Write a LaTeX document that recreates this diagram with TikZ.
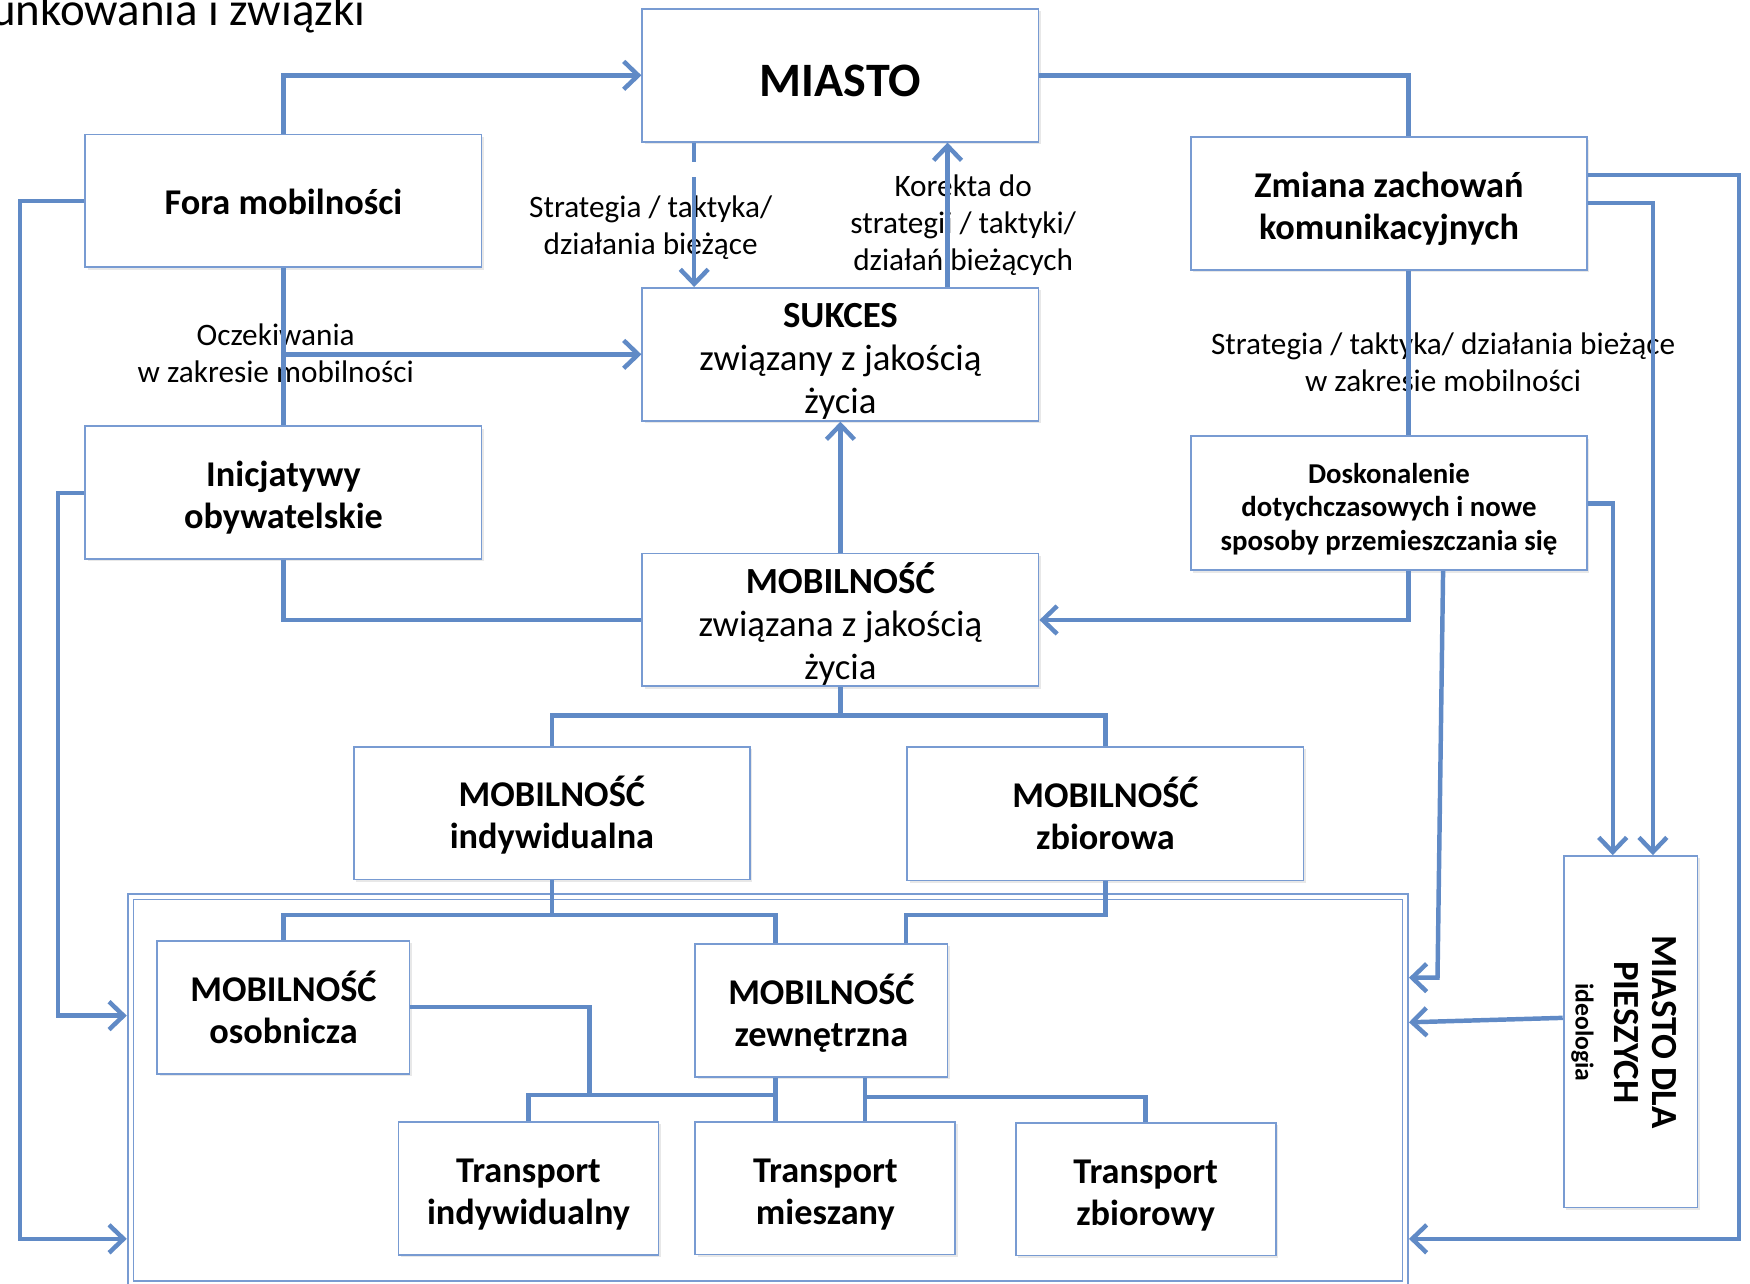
\documentclass[tikz,border=0pt]{standalone}
\usepackage{fontspec}
\setmainfont{Carlito}
\usetikzlibrary{arrows.meta,calc,shadows}

\definecolor{linkblue}{RGB}{96,138,198}
\definecolor{frameblue}{RGB}{120,155,210}

\newcommand{\fsz}[2]{\fontsize{#1}{#2}\selectfont}
% centred block of lines, drawn a little lower than its box is centred
\newcommand{\boxtext}[2][6pt]{\raisebox{-#1}[\height][\depth]{\begin{tabular}{@{}c@{}}#2\end{tabular}}}

\begin{document}
\begin{tikzpicture}[x=1pt,y=-1pt,
  box/.style={draw=frameblue, line width=1.6pt, fill=white, inner sep=0pt,
    align=center, drop shadow={opacity=0.18, shadow xshift=2pt, shadow yshift=-2pt}},
  bigbox/.style={box, minimum width=355pt, minimum height=119pt},
  smallbox/.style={box, minimum width=226pt, minimum height=119pt},
  tbox/.style={box, minimum width=233pt, minimum height=119pt},
  title/.style={font=\bfseries\fsz{32.5}{37.5}},
  plain/.style={font=\fsz{33}{38.5}},
  lbl/.style={align=center, inner sep=0pt, font=\fsz{28}{33}},
  link/.style={draw=linkblue, line width=4pt, line join=miter},
  arr/.style={-{Straight Barb[length=13pt,width=25pt]}},
]
\useasboundingbox (0,0) rectangle (1568,1150);

% page heading (cut at the edge)
\node[anchor=base west, inner sep=0pt, font=\fsz{42}{46}] (heading) at (-8,23) {unkowania i związki};

% container holding the detailed mobility levels
\node[draw=frameblue, line width=1.4pt, double=white, double distance=3.6pt,
      minimum width=1142pt, minimum height=347pt, outer sep=3.4pt] (cont) at (688,977) {};

% main boxes
\node[bigbox, font=\bfseries\fsz{43}{48}] (miasto) at (753,67.5) {\boxtext[9pt]{MIASTO}};
\node[bigbox, title] (fora) at (254,180) {\boxtext[5pt]{Fora mobilności}};
\node[bigbox, title] (zmiana) at (1244.5,182.5) {\boxtext[5.5pt]{Zmiana zachowań\\komunikacyjnych}};
\node[bigbox, plain] (sukces) at (753,317.5) {\boxtext[6.5pt]{\textbf{SUKCES}\\związany z jakością\\życia}};
\node[bigbox, title] (inicj) at (254,441.5) {\boxtext{Inicjatywy\\obywatelskie}};
\node[bigbox, font=\bfseries\fsz{25.8}{30}, minimum height=120pt] (dosk) at (1244.5,451)
  {\boxtext{Doskonalenie\\dotychczasowych i nowe\\sposoby przemieszczania się}};
\node[bigbox, plain] (mobq) at (753,555.5) {\boxtext[6.5pt]{\textbf{MOBILNOŚĆ}\\związana z jakością\\życia}};
\node[bigbox, title] (mind) at (494.5,728.5) {\boxtext[5pt]{MOBILNOŚĆ\\indywidualna}};
\node[bigbox, title, minimum height=120pt] (mzb) at (990.5,729) {\boxtext[5.5pt]{MOBILNOŚĆ\\zbiorowa}};
\node[smallbox, title] (mos) at (254,902.5) {\boxtext{MOBILNOŚĆ\\osobnicza}};
\node[smallbox, title] (mzew) at (736,905.5) {\boxtext[5.5pt]{MOBILNOŚĆ\\zewnętrzna}};
\node[tbox, title] (tind) at (473.5,1065) {\boxtext{Transport\\indywidualny}};
\node[tbox, title] (tmie) at (739.5,1064.5) {\boxtext{Transport\\mieszany}};
\node[tbox, title] (tzb) at (1026.5,1065.5) {\boxtext{Transport\\zbiorowy}};
\node[box, minimum width=120pt, minimum height=315pt] (piesz) at (1461,924.5) {};
\node[rotate=-90, align=center, inner sep=0pt, font=\bfseries\fsz{33}{34.5}] (pieszText) at (1455,925)
  {MIASTO DLA\\PIESZYCH\\\fsz{23}{34.5}ideologia};

% connector labels
\node[lbl] (lblOcz) at (247,316.5) {Oczekiwania\\w zakresie mobilności};
\node[lbl] (lblStr) at (583,204) {Strategia / taktyka/\\działania bieżące};
\node[lbl] (lblKor) at (863,202) {Korekta do\\strategii / taktyki/\\działań bieżących};
\node[lbl] (lblStr2) at (1293,324.5) {Strategia / taktyka/ działania bieżące\\w zakresie mobilności};

% routing points
\coordinate (laneFL) at (18,1110);
\coordinate (laneIL) at (52,910);
\coordinate (laneFR) at (1558,1110);
\coordinate (xDash) at (622,0);
\coordinate (xKor) at (849,0);
\coordinate (xZm) at (1262,0);
\coordinate (xDs) at (1293,0);
\coordinate (dsBend) at (1288,876);
\coordinate (xP1) at (1445,0);
\coordinate (xP2) at (1481,0);
\coordinate (yZm1) at (0,157);
\coordinate (yZm2) at (0,182);
\coordinate (yDs) at (0,451);
\coordinate (yPz) at (0,912);
\coordinate (yPzC) at (0,916);
\coordinate (yBar1) at (0,641);
\coordinate (yBar2) at (0,820);
\coordinate (yBar3) at (0,981);
\coordinate (yBar4) at (0,983);
\coordinate (xZ1) at (695,0);
\coordinate (xZ2) at (812,0);
\coordinate (xZ3) at (775,0);
\coordinate (osBend) at (528,981);

% left side
\draw[link, arr] (fora.north) |- (miasto.west);
\draw[link, arr] (fora.west) -| (laneFL) -- (cont.west |- laneFL);
\draw[link] (fora.south) -- (inicj.north);
\draw[link, arr] (fora.south |- sukces.west) -- (sukces.west);
\draw[link, arr] (inicj.west) -| (laneIL) -- (cont.west |- laneIL);
\draw[link] (inicj.south) |- (mobq.west);

% centre column
\draw[link, arr, dash pattern=on 17pt off 14pt on 400pt] (miasto.south -| xDash) -- (sukces.north -| xDash);
\draw[link, arr] (sukces.north -| xKor) -- (miasto.south -| xKor);
\draw[link, arr] (mobq.north) -- (sukces.south);

% right side
\draw[link] (miasto.east) -| (zmiana.north -| xZm);
\draw[link] (zmiana.south -| xZm) -- (dosk.north -| xZm);
\draw[link, arr] (dosk.south -| xZm) |- (mobq.east);
\draw[link, arr] (zmiana.east |- yZm1) -| (laneFR) -- (cont.east |- laneFR);
\draw[link, arr] (zmiana.east |- yZm2) -| (piesz.north -| xP2);
\draw[link, arr] (dosk.east |- yDs) -| (piesz.north -| xP1);
\draw[link, arr] (dosk.south -| xDs) -- (dsBend) -- (cont.east |- dsBend);
\draw[link, arr] (piesz.west |- yPz) -- (cont.east |- yPzC);

% hierarchy of mobility
\draw[link] (mobq.south) -- (mobq.south |- yBar1);
\draw[link] (mind.north) -- (mind.north |- yBar1) -- (mzb.north |- yBar1) -- (mzb.north);
\draw[link] (mind.south) -- (mind.south |- yBar2);
\draw[link] (mos.north) |- (yBar2 -| xZ1) -- (mzew.north -| xZ1);
\draw[link] (mzb.south) -- (mzb.south |- yBar2) -| (mzew.north -| xZ2);
\draw[link] (mos.east) -| (osBend);
\draw[link] (tind.north) -- (tind.north |- yBar3) -- (yBar3 -| xZ1);
\draw[link] (mzew.south -| xZ1) -- (tmie.north -| xZ1);
\draw[link] (mzew.south -| xZ3) -- (tmie.north -| xZ3);
\draw[link] (tzb.north) -- (tzb.north |- yBar4) -- (yBar4 -| xZ3);
\end{tikzpicture}
\end{document}
